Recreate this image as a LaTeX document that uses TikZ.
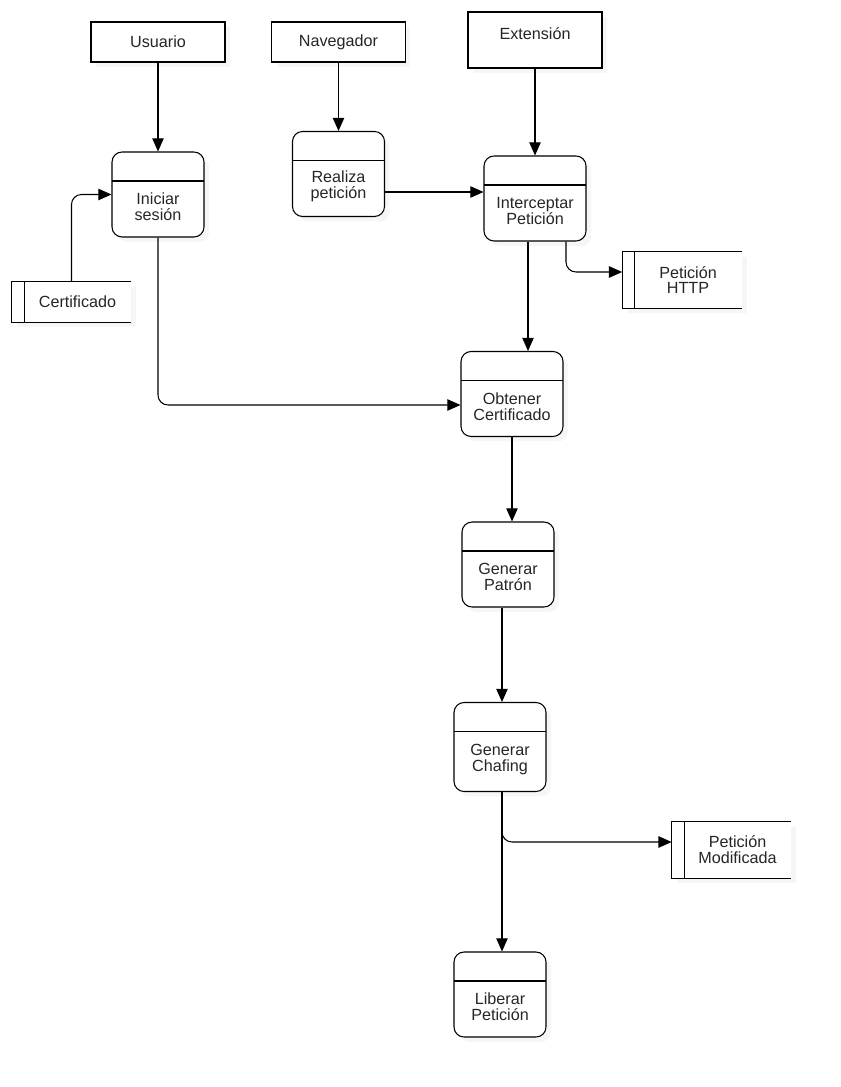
\documentclass[tikz,border=0pt]{standalone}
\usepackage{fontspec}
\setmainfont{Liberation Sans}
\usetikzlibrary{arrows.meta,shadows}

\begin{document}
\begin{tikzpicture}[
    x=0.02cm, y=-0.02cm,
    every node/.style={font=\fontsize{9.2}{9}\selectfont, text=black!85},
    soft/.style={
        drop shadow={shadow xshift=0.1cm, shadow yshift=-0.1cm, opacity=0.07}
    },
    entity/.style={
        rectangle,
        draw,
        fill=white,
        line width=0.6pt,
        minimum width=2.68cm,
        minimum height=0.8cm,
        soft
    },
    proc/.style={
        rectangle,
        rounded corners=0.2cm,
        draw,
        fill=white,
        line width=0.6pt,
        minimum width=1.84cm,
        minimum height=1.7cm,
        soft,
        path picture={
            \draw[line width=0.6pt]
                ([yshift=-0.58cm]path picture bounding box.north west) --
                ([yshift=-0.58cm]path picture bounding box.north east);
        }
    },
    proctext/.style={align=center, yshift=-0.25cm},
    store/.style={
        rectangle,
        fill=white,
        minimum width=2.38cm,
        minimum height=1.12cm,
        soft
    },
    storetext/.style={align=center, xshift=0.12cm},
    flow/.style={
        line width=0.6pt,
        rounded corners=0.2cm,
        -{Triangle[length=7.5pt,width=6.5pt]}
    }
]

\useasboundingbox (0,0) rectangle (840,1087);

% external entities
\node[entity] (usuario) at (158,42) {Usuario};
\node[entity] (navegador) at (338.5,42) {Navegador};
\node[entity, minimum height=1.12cm,
      label={[anchor=north, yshift=-0.2cm]north:Extensión}] (ext) at (535,40) {};

% processes
\node[proc, label={[proctext]center:Iniciar\\sesión}] (inicio) at (158,194.5) {};
\node[proc, label={[proctext]center:Realiza\\petición}] (realiza) at (338.5,174) {};
\node[proc, minimum width=2.04cm, label={[proctext]center:Interceptar\\Petición}] (inter) at (535,198.5) {};
\node[proc, minimum width=2.04cm, label={[proctext]center:Obtener\\Certificado}] (obt) at (512,394) {};
\node[proc, label={[proctext]center:Generar\\Patrón}] (patron) at (508,564.5) {};
\node[proc, minimum height=1.78cm, label={[proctext]center:Generar\\Chafing}] (chafing) at (500,747) {};
\node[proc, label={[proctext]center:Liberar\\Petición}] (liberar) at (500,994.5) {};

% data stores
\node[store, minimum height=0.8cm, label={[storetext]center:Certificado}] (cert) at (71.5,302) {};
\node[store, label={[storetext]center:Petición\\HTTP}] (http) at (682,280) {};
\node[store, label={[storetext]center:Petición\\Modificada}] (modif) at (731.5,850) {};

\foreach \s in {cert,http,modif} {
    \draw[line width=0.6pt] (\s.north east) -| (\s.south west) -- (\s.south east);
    \draw[line width=0.6pt] ([xshift=0.25cm]\s.north west) -- ([xshift=0.25cm]\s.south west);
}

% flows
\coordinate (rp) at ([yshift=-0.36cm]realiza.east);
\coordinate (ih) at ([xshift=0.62cm]inter.south);
\coordinate (hi) at ([yshift=0.16cm]http.west);
\coordinate (io) at ([xshift=-0.14cm]inter.south);
\coordinate (oi) at ([yshift=-0.22cm]obt.west);
\coordinate (pc) at ([xshift=-0.12cm]patron.south);
\coordinate (cs) at ([xshift=0.04cm]chafing.south);
\coordinate (mc) at ([yshift=0.16cm]modif.west);

\draw[flow] (usuario) -- (inicio);
\draw[flow] (navegador) -- (realiza);
\draw[flow] (ext) -- (inter);
\draw[flow] (cert.north) |- (inicio.west);
\draw[flow] (rp) -- (rp -| inter.west);
\draw[flow] (ih) |- (hi);
\draw[flow] (io) -- (io |- obt.north);
\draw[flow] (inicio.south) |- (oi);
\draw[flow] (obt.south) -- (obt.south |- patron.north);
\draw[flow] (pc) -- (pc |- chafing.north);
\draw[flow] (cs) -- (cs |- liberar.north);
\draw[flow] (cs) |- (mc);

\end{tikzpicture}
\end{document}
